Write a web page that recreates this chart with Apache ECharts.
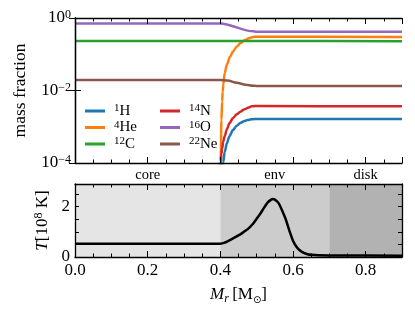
<!DOCTYPE html>
<html><head><meta charset="utf-8">
<script src="https://cdn.jsdelivr.net/npm/echarts@6/dist/echarts.min.js"></script>
<style>html,body{margin:0;padding:0;background:#fff}#c{width:415px;height:315px}</style>
</head><body><div id="c"></div>
<script>
const FONT = 'Liberation Serif';
// species
const massNumbers = ['1', '4', '12', '14', '16', '22'];
const elements = ['H', 'He', 'C', 'N', 'O', 'Ne'];
const colors = ['#1f77b4', '#ff7f0e', '#2ca02c', '#d62728', '#9467bd', '#8c564b'];
// mass fraction profiles (x = M_r, y = mass fraction)
const xH  = [0.405, 0.408, 0.412, 0.418, 0.425, 0.435, 0.445, 0.455, 0.465, 0.475, 0.485, 0.495, 0.5, 0.9];
const yH  = [5e-5, 1.05e-4, 2.0e-4, 3.5e-4, 5.5e-4, 8.2e-4, 1.07e-3, 1.27e-3, 1.42e-3, 1.53e-3, 1.6e-3, 1.63e-3, 1.64e-3, 1.64e-3];
const xHe = [0.4, 0.401, 0.403, 0.405, 0.4065, 0.408, 0.412, 0.418, 0.427, 0.435, 0.445, 0.455, 0.468, 0.478, 0.487, 0.495, 0.5, 0.9];
const yHe = [5e-5, 1.2e-4, 1.5e-3, 5e-3, 9.3e-3, 1.4e-2, 3.0e-2, 5.2e-2, 8.6e-2, 0.12, 0.162, 0.2, 0.247, 0.275, 0.295, 0.303, 0.305, 0.30];
const xC  = [0, 0.4, 0.5, 0.9];
const yC  = [0.232, 0.232, 0.231, 0.23];
const xN  = [0.4, 0.401, 0.403, 0.405, 0.408, 0.412, 0.418, 0.425, 0.435, 0.445, 0.455, 0.468, 0.478, 0.487, 0.495, 0.5, 0.9];
const yN  = [5e-5, 1.1e-4, 1.8e-4, 2.5e-4, 3.9e-4, 5.5e-4, 8.5e-4, 1.25e-3, 1.75e-3, 2.2e-3, 2.6e-3, 3.1e-3, 3.4e-3, 3.65e-3, 3.72e-3, 3.72e-3, 3.65e-3];
const xO  = [0, 0.4, 0.49, 0.5, 0.9];
const yO  = [0.71, 0.71, 0.43, 0.42, 0.42];
const xNe = [0, 0.4, 0.42, 0.445, 0.47, 0.49, 0.5, 0.9];
const yNe = [0.0195, 0.0195, 0.0188, 0.0163, 0.0145, 0.0136, 0.0134, 0.0133];
const speciesX = [xH, xHe, xC, xN, xO, xNe];
const speciesY = [yH, yHe, yC, yN, yO, yNe];
// temperature profile, 10^8 K
const xT = [0, 0.4, 0.41, 0.42, 0.43, 0.44, 0.45, 0.46, 0.47, 0.48, 0.49, 0.5, 0.51, 0.52, 0.53, 0.54, 0.545, 0.55, 0.56, 0.57, 0.58, 0.59, 0.6, 0.61, 0.62, 0.63, 0.64, 0.65, 0.67, 0.7, 0.9];
const yT = [0.53, 0.53, 0.56, 0.62, 0.70, 0.78, 0.86, 0.95, 1.05, 1.17, 1.32, 1.52, 1.72, 1.95, 2.16, 2.28, 2.30, 2.28, 2.15, 1.85, 1.5, 1.05, 0.65, 0.40, 0.25, 0.16, 0.11, 0.085, 0.065, 0.06, 0.05];
// regions
const regionNames = ['core', 'env', 'disk'];
const regionEdges = [0, 0.4, 0.7, 0.9];
const regionColors = ['#e5e5e5', '#cccccc', '#b2b2b2'];
// tick labels
const xTickLabels = [0, 0.2, 0.4, 0.6, 0.8];
const logTickValues = [1e-4, 1e-2, 1];
const tTickLabels = [0, 2];

const regionMids = regionNames.map((n, i) => (regionEdges[i] + regionEdges[i + 1]) / 2);
const zip = (a, b) => a.map((v, i) => [v, b[i]]);

const black = '#000';
const lineW = 1.3;
function xAx(grid, pos, interval, tickLen, extra) {
  return Object.assign({
    type: 'value', gridIndex: grid, position: pos, min: 0, max: 0.9, interval: interval, z: 10,
    axisLine: { show: true, onZero: false, lineStyle: { color: black, width: lineW } },
    axisTick: { show: true, inside: true, length: tickLen, lineStyle: { color: black, width: 1 } },
    axisLabel: { show: false }, splitLine: { show: false }
  }, extra || {});
}
const supRich = {
  b: { fontFamily: FONT, fontSize: 17, color: black, lineHeight: 18 },
  s: { fontFamily: FONT, fontSize: 12, color: black, lineHeight: 12, verticalAlign: 'top' }
};
function logLabel(v) {
  const e = Math.round(Math.log10(v));
  return '{b|10}{s|' + (e < 0 ? '\u2212' + (-e) : e) + '}';
}

const xAxes = [
  xAx(0, 'bottom', 0.2, 6, {
    axisLabel: { show: true, customValues: regionMids, margin: 5, fontFamily: FONT, fontSize: 14.5, color: black,
      formatter: v => { const i = regionMids.findIndex(m => Math.abs(m - v) < 1e-6); return i >= 0 ? regionNames[i] : ''; } }
  }),
  xAx(0, 'bottom', 0.05, 3.5, { axisLine: { show: false, onZero: false } }),
  xAx(0, 'top', 0.2, 6),
  xAx(0, 'top', 0.05, 3.5, { axisLine: { show: false, onZero: false } }),
  xAx(1, 'bottom', 0.2, 6, {
    axisLabel: { show: true, customValues: xTickLabels, margin: 5, fontFamily: FONT, fontSize: 17, color: black,
      formatter: v => v.toFixed(1) },
    name: '{it|M}{sub|r} {n|[M}{sub2|\u2299}{n|]}', nameLocation: 'middle', nameGap: 28,
    nameTextStyle: { rich: {
      it: { fontFamily: FONT, fontStyle: 'italic', fontSize: 17, color: black, lineHeight: 20 },
      n: { fontFamily: FONT, fontSize: 17, color: black, lineHeight: 20 },
      sub: { fontFamily: FONT, fontStyle: 'italic', fontSize: 12, color: black, lineHeight: 12, verticalAlign: 'bottom' },
      sub2: { fontFamily: 'DejaVu Sans', fontSize: 10, color: black, lineHeight: 10, verticalAlign: 'bottom' }
    } }
  }),
  xAx(1, 'bottom', 0.05, 3.5, { axisLine: { show: false, onZero: false } }),
  xAx(1, 'top', 0.2, 6),
  xAx(1, 'top', 0.05, 3.5, { axisLine: { show: false, onZero: false } })
];

const yAxes = [
  { type: 'log', logBase: 10, gridIndex: 0, position: 'left', min: 1e-4, max: 1, z: 10,
    axisLine: { show: true, lineStyle: { color: black, width: lineW } },
    axisTick: { show: true, inside: true, length: 6, customValues: logTickValues, lineStyle: { color: black, width: 1 } },
    axisLabel: { show: true, customValues: logTickValues, margin: 4, formatter: logLabel, rich: supRich },
    splitLine: { show: false }, minorTick: { show: false },
    name: 'mass fraction', nameLocation: 'middle', nameGap: 46,
    nameTextStyle: { fontFamily: FONT, fontSize: 17.5, color: black } },
  { type: 'log', logBase: 10, gridIndex: 0, position: 'right', min: 1e-4, max: 1, z: 10,
    axisLine: { show: true, lineStyle: { color: black, width: lineW } },
    axisTick: { show: true, inside: true, length: 6, customValues: logTickValues, lineStyle: { color: black, width: 1 } },
    axisLabel: { show: false }, splitLine: { show: false } },
  { type: 'value', gridIndex: 1, position: 'left', min: 0, max: 2.9, interval: 0.5, z: 10,
    axisLine: { show: true, onZero: false, lineStyle: { color: black, width: lineW } },
    axisTick: { show: true, inside: true, length: 4, lineStyle: { color: black, width: 1 } },
    axisLabel: { show: true, customValues: tTickLabels, margin: 5, fontFamily: FONT, fontSize: 17, color: black },
    splitLine: { show: false },
    name: '{it|T}{n|[10}{s|8}{n| K]}', nameLocation: 'middle', nameGap: 20,
    nameTextStyle: { rich: {
      it: { fontFamily: FONT, fontStyle: 'italic', fontSize: 17, color: black, lineHeight: 19 },
      n: { fontFamily: FONT, fontSize: 17, color: black, lineHeight: 19 },
      s: { fontFamily: FONT, fontSize: 12, color: black, lineHeight: 12, verticalAlign: 'top' }
    } } },
  { type: 'value', gridIndex: 1, position: 'right', min: 0, max: 2.9, interval: 0.5, z: 10,
    axisLine: { show: true, onZero: false, lineStyle: { color: black, width: lineW } },
    axisTick: { show: true, inside: true, length: 4, lineStyle: { color: black, width: 1 } },
    axisLabel: { show: false }, splitLine: { show: false } }
];

const names = massNumbers.map((a, i) => a + elements[i]);
const speciesSeries = names.map((nm, i) => ({
  name: nm, type: 'line', xAxisIndex: 0, yAxisIndex: 0, data: zip(speciesX[i], speciesY[i]),
  showSymbol: false, symbol: 'none', smooth: 0.3, smoothMonotone: 'x', clip: true,
  lineStyle: { color: colors[i], width: 2.5 }, itemStyle: { color: colors[i] }, z: 3
}));

const shading = {
  type: 'line', xAxisIndex: 4, yAxisIndex: 2, data: [], z: 1, silent: true,
  markArea: { silent: true, data: regionNames.map((n, i) => [
    { xAxis: regionEdges[i], itemStyle: { color: regionColors[i] } }, { xAxis: regionEdges[i + 1] }
  ]) }
};
const tSeries = {
  name: 'T', type: 'line', xAxisIndex: 4, yAxisIndex: 2, data: zip(xT, yT),
  showSymbol: false, symbol: 'none', smooth: 0.2,
  lineStyle: { color: black, width: 2.5 }, z: 5
};

const legendRich = {
  s: { fontFamily: FONT, fontSize: 11, color: black, lineHeight: 11, verticalAlign: 'top', padding: [0, 0, 0, 4] },
  e: { fontFamily: FONT, fontSize: 15, color: black, lineHeight: 16 }
};
function legendFmt(nm) {
  const i = names.indexOf(nm);
  return '{s|' + massNumbers[i] + '}{e|' + elements[i] + '}';
}
function legend(dataNames, left) {
  return {
    data: dataNames, left: left, top: 103, orient: 'vertical', padding: 0, itemGap: 1,
    itemWidth: 20, itemHeight: 3, icon: 'rect', selectedMode: false,
    formatter: legendFmt, textStyle: { rich: legendRich }
  };
}

const chart = echarts.init(document.getElementById('c'), null, { renderer: 'canvas' });
chart.setOption({
  animation: false,
  backgroundColor: '#fff',
  grid: [
    { left: 75, top: 18, width: 327, height: 145 },
    { left: 75, top: 184, width: 327, height: 73 }
  ],
  legend: [legend(names.slice(0, 3), 85), legend(names.slice(3), 160)],
  xAxis: xAxes,
  yAxis: yAxes,
  series: speciesSeries.concat([shading, tSeries])
});
</script></body></html>
